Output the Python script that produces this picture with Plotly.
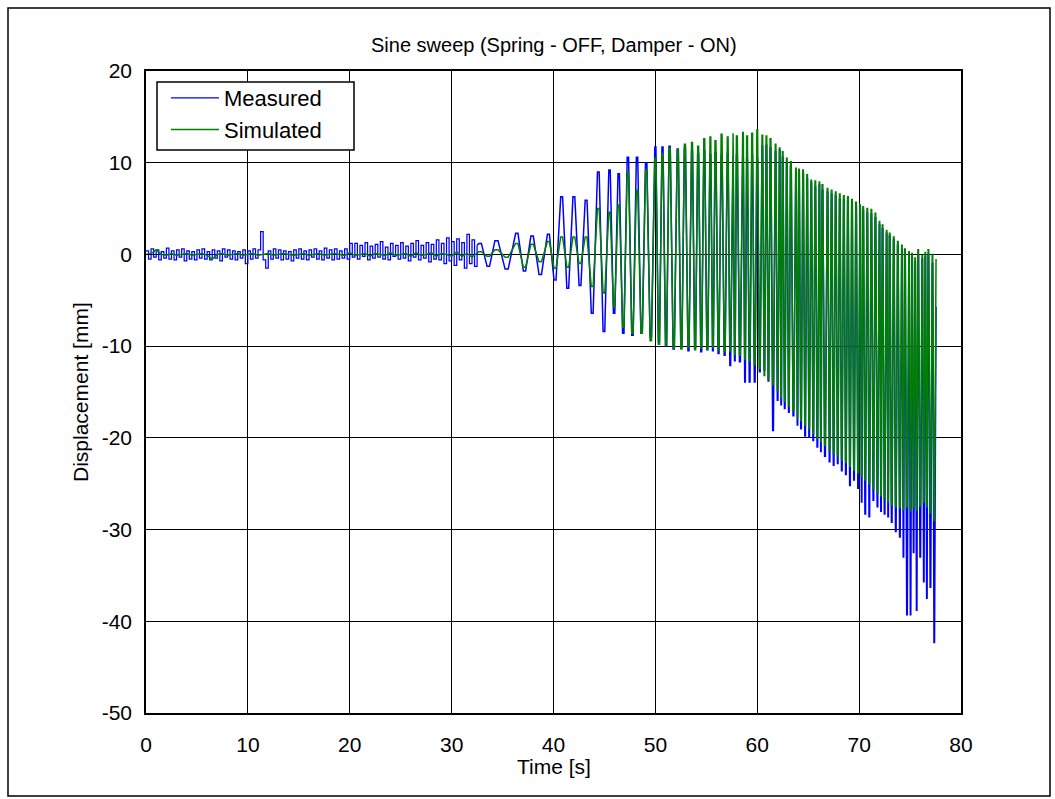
import numpy as np
import plotly.graph_objects as go

# ---------------- data ----------------
# quiet part, measured (sampled every 0.25 s from t = 0)
noise_dt = 0.25
meas_quiet = [0.4, -0.5, 0.6, -0.3, 0.5, -0.6, 0.3, -0.4, 0.7, -0.5,
              0.4, -0.6, 0.5, -0.3, 0.6, -0.7, 0.4, -0.5, 0.3, -0.6,
              0.5, -0.4, 0.6, -0.5, 0.3, -0.6, 0.5, -0.4, 0.4, -0.7,
              0.6, -0.3, 0.5, -0.5, 0.4, -0.6, 0.3, -0.4, 0.5, -1.0,
              0.4,
              -0.5, 0.6, -0.4, 0.5, 2.5, -0.6, -1.5, 0.4, -0.5, 0.6,
              -0.4, 0.5, -0.6, 0.4, -0.5, 0.3, -0.7, 0.5, -0.4, 0.6,
              -0.5, 0.4, -0.6, 0.5, -0.3, 0.6, -0.5, 0.4, -0.6, 0.7,
              -0.4, 0.5, -0.6, 0.6, -0.5, 0.4, -0.4, 0.6, -0.5, 1.2,
              -0.3, 1.2, -0.5, 1.0, -0.2, 1.3, -0.6, 0.9, -0.4, 1.1,
              -0.3, 1.4, -0.5, 0.8, -0.6, 1.2, -0.2, 1.0, -0.5, 1.3,
              -0.4, 0.9, -0.7, 1.2, -0.3, 1.5, -0.6, 1.0, -0.4, 1.3,
              -0.8, 1.1, -0.5, 1.6, -0.6, 1.2, -1.0, 1.8, -0.7, 1.4,
              -1.2, 1.7, -0.6, 1.3, -1.5, 2.2, -1.0, 1.6, -1.3, 1.0]

# quiet part, simulated (sampled every 0.5 s from t = 0)
sim_dt = 0.5
sim_quiet = [0.0, 0.1, 0.5, 0.0, -0.1, 0.1, -0.1, 0.0, 0.1, -0.1,
             0.0, 0.1, -0.1, -0.5, 0.0, 0.1, -0.1, 0.0, 0.1, -0.1,
             0.0, 0.1, -0.1, 0.0, 0.1, -0.1, 0.0, 0.1, 0.0, -0.1,
             0.0, 0.1, -0.1, 0.0, 0.1, -0.1, 0.0, 0.1, 0.0, -0.1,
             0.2, -0.1, 0.0, 0.1, -0.2, 0.1, 0.0, -0.1, 0.2, -0.1,
             0.0, 0.1, -0.2, 0.2, -0.1, 0.0, 0.2, -0.2, 0.1, 0.0,
             -0.2, 0.3, -0.2, 0.1, -0.3, 0.2]

# sweep part: time of each cycle's crest [s]
cycle_t = [32.8, 34.4, 36.4, 37.9, 39.5, 40.8, 42.0, 43.2, 44.4, 45.5,
           46.4, 47.3, 48.2, 49.1, 50.0,
           50.7, 51.4, 52.2, 52.9, 53.6, 54.2, 54.8, 55.4, 55.9, 56.5,
           57.1, 57.6, 58.0, 58.6, 59.0, 59.5, 60.0,
           60.5, 60.9, 61.3, 61.8, 62.2, 62.5, 62.9, 63.3, 63.8, 64.1,
           64.5, 64.9, 65.3, 65.7, 66.1, 66.4, 66.9, 67.3, 67.7, 68.1,
           68.5, 68.9, 69.3, 69.7,
           70.1, 70.4, 70.8, 71.2, 71.6, 72.0, 72.3, 72.7, 73.0, 73.4,
           73.8, 74.2, 74.5, 74.9, 75.2, 75.5, 75.8, 76.2, 76.5, 76.8, 77.2]
end_t = 77.55

sim_hi = [0.3, 0.5, 1.2, 1.1, 1.4, 1.9, 1.9, 1.9, 5.0, 4.6,
          5.4, 9.0, 7.0, 9.2, 10.5,
          11.0, 11.6, 11.4, 12.0, 12.2, 11.8, 12.6, 12.8, 12.4, 13.1,
          12.8, 13.2, 12.9, 13.3, 12.9, 13.2, 13.6,
          13.0, 12.9, 12.6, 12.0, 11.6, 11.2, 10.5, 10.1, 9.4, 9.3,
          9.2, 8.7, 8.1, 8.0, 7.9, 7.6, 7.2, 7.0, 6.8, 6.6,
          6.4, 6.3, 6.0, 5.7,
          5.4, 5.2, 5.0, 4.9, 4.5, 3.6, 3.2, 2.6, 2.3, 1.9,
          1.4, 1.0, 0.6, 0.3, 0.1, -0.4, 0.5, -0.1, 0.2, 0.5, 0.0]
sim_lo = [-0.2, -0.3, -1.4, -0.8, -1.5, -1.4, -1.0, -3.5, -4.2, -5.7,
          -7.9, -8.6, -8.6, -9.4, -9.8,
          -9.9, -10.2, -10.3, -10.1, -10.4, -10.2, -10.3, -10.1, -10.4, -10.6,
          -10.5, -10.9, -11.0, -11.4, -11.6, -12.0, -12.4,
          -13.2, -13.6, -14.2, -14.8, -15.6, -16.0, -16.5, -17.0, -17.8, -18.1,
          -18.6, -19.0, -19.5, -20.0, -20.4, -20.8, -21.3, -21.7, -22.0, -22.4,
          -22.7, -23.1, -23.5, -23.8,
          -24.2, -24.6, -25.0, -25.5, -26.0, -26.3, -26.6, -27.0, -27.3, -27.5,
          -27.6, -27.8, -27.5, -28.0, -27.6, -27.9, -27.4, -27.0, -27.5, -28.2, -29.0]
sim_end = -0.5

meas_hi = [1.2, 1.5, 2.3, 2.0, 2.2, 6.3, 6.3, 5.9, 9.0, 9.2,
           8.8, 10.6, 10.6, 10.0, 11.7,
           11.7, 11.8, 11.5, 11.6, 11.2, 11.0, 11.3, 10.9, 11.1, 10.8,
           11.0, 10.7, 10.9, 10.6, 10.5, 10.8, 10.4,
           11.8, 11.9, 11.6, 11.2, 11.4, 10.6, 10.0, 9.6, 9.0, 8.8,
           8.8, 8.2, 7.8, 7.4, 7.6, 7.0, 6.8, 6.6, 6.4, 6.0,
           6.0, 5.8, 5.6, 5.2,
           5.0, 4.8, 4.5, 4.4, 4.0, 3.2, 2.8, 2.3, 2.0, 1.6,
           1.0, 0.6, 0.3, 0.0, -0.2, -0.8, 0.0, -0.5, -0.2, 0.0, -1.0]
meas_lo = [-1.3, -1.6, -1.8, -2.2, -2.8, -3.7, -3.4, -6.4, -8.4, -6.4,
           -8.6, -8.8, -8.6, -9.0, -9.6,
           -10.0, -10.3, -10.1, -10.5, -10.2, -10.6, -10.4, -10.5, -10.8, -11.0,
           -12.1, -11.6, -11.7, -13.9, -13.9, -13.9, -12.8,
           -12.6, -13.8, -19.2, -15.9, -16.4, -16.8, -17.2, -17.6, -18.6, -19.0,
           -19.8, -19.9, -20.3, -21.0, -21.5, -22.0, -22.6, -23.0, -22.8, -23.6,
           -24.0, -25.2, -24.6, -25.5,
           -27.0, -28.3, -28.6, -26.8, -27.5, -28.0, -28.3, -28.6, -29.2, -30.2,
           -30.8, -33.0, -39.3, -39.3, -32.5, -38.8, -33.0, -35.7, -37.5, -36.3, -42.3]
meas_end = -5.7

x_ticks = [0, 10, 20, 30, 40, 50, 60, 70, 80]
y_ticks = [-50, -40, -30, -20, -10, 0, 10, 20]

# ---------------- build traces ----------------
PLATEAU = 0.15  # fraction of a half period spent near each crest / trough


def sweep(hi, lo, end_val):
    ts = cycle_t + [end_t]
    xs, ys = [], []
    for i in range(len(cycle_t)):
        half = 0.5 * (ts[i + 1] - ts[i])
        a = PLATEAU * half
        mid = ts[i] + half
        xs += [ts[i] - a, ts[i] + a, mid - a, mid + a]
        ys += [hi[i], hi[i], lo[i], lo[i]]
    xs.append(end_t)
    ys.append(end_val)
    return xs, ys


mq_t = [i * noise_dt for i in range(len(meas_quiet))]
sq_t = [i * sim_dt for i in range(len(sim_quiet))]
mx, my = sweep(meas_hi, meas_lo, meas_end)
sx, sy = sweep(sim_hi, sim_lo, sim_end)

FONT = "Liberation Sans, Arial, sans-serif"
BLUE, GREEN = "#0000FF", "#008000"
LW = 1.25
LW_SWEEP = 1.5

fig = go.Figure()
fig.add_trace(go.Scatter(x=mq_t, y=meas_quiet, mode="lines", line_shape="hv",
                         name="Measured", legendgroup="m",
                         line=dict(color=BLUE, width=LW)))
fig.add_trace(go.Scatter(x=[mq_t[-1]] + mx, y=[meas_quiet[-1]] + my, mode="lines",
                         name="Measured", legendgroup="m", showlegend=False,
                         line=dict(color=BLUE, width=LW_SWEEP)))
fig.add_trace(go.Scatter(x=sq_t + sx, y=sim_quiet + sy, mode="lines",
                         name="Simulated", line=dict(color=GREEN, width=LW_SWEEP)))

L, R, T, B = 146, 961, 71, 713
W, H = 1055, 799
pw, ph = R - L, B - T


def px(xp):
    return (xp - L) / pw


def py(yp):
    return (B - yp) / ph


fig.update_layout(
    width=W, height=H,
    margin=dict(l=L, r=W - R, t=T, b=H - B, pad=0),
    paper_bgcolor="white", plot_bgcolor="white",
    font=dict(family=FONT, size=21, color="black"),
    showlegend=True,
    legend=dict(x=px(166), y=py(77), xanchor="left", yanchor="top",
                borderwidth=0, bgcolor="rgba(0,0,0,0)",
                font=dict(size=22), tracegroupgap=0, itemwidth=48),
    xaxis=dict(range=[0, 80], tickvals=x_ticks, ticktext=[str(v) for v in x_ticks],
               showgrid=True, gridcolor="black", gridwidth=1, zeroline=False,
               showline=True, linecolor="black", linewidth=1.5, mirror="all",
               ticks="inside", ticklen=6, tickcolor="black", ticklabelstandoff=12),
    yaxis=dict(range=[-50, 20], tickvals=y_ticks, ticktext=[str(v) for v in y_ticks],
               showgrid=True, gridcolor="black", gridwidth=1, zeroline=False,
               showline=True, linecolor="black", linewidth=1.5, mirror="all",
               ticks="inside", ticklen=6, tickcolor="black", ticklabelstandoff=8),
    annotations=[
        dict(text="Sine sweep (Spring - OFF, Damper - ON)", xref="paper", yref="paper",
             x=0.5, y=py(45), xanchor="center", yanchor="middle", showarrow=False,
             font=dict(size=20)),
        dict(text="Time [s]", xref="paper", yref="paper", x=0.5, y=py(767),
             xanchor="center", yanchor="middle", showarrow=False, font=dict(size=21)),
        dict(text="Displacement [mm]", xref="paper", yref="paper", x=px(80), y=0.5,
             xanchor="center", yanchor="middle", showarrow=False, textangle=-90,
             font=dict(size=21)),
    ],
    shapes=[
        dict(type="rect", xref="paper", yref="paper",
             x0=px(8), x1=px(1050), y0=py(796), y1=py(8),
             line=dict(color="black", width=1.5), fillcolor="rgba(0,0,0,0)"),
        # legend frame (white box with black border)
        dict(type="rect", xref="paper", yref="paper", layer="above",
             x0=px(157), x1=px(354), y0=py(150), y1=py(82),
             line=dict(color="black", width=1.5), fillcolor="white"),
    ],
)

fig.write_html("out.html")
